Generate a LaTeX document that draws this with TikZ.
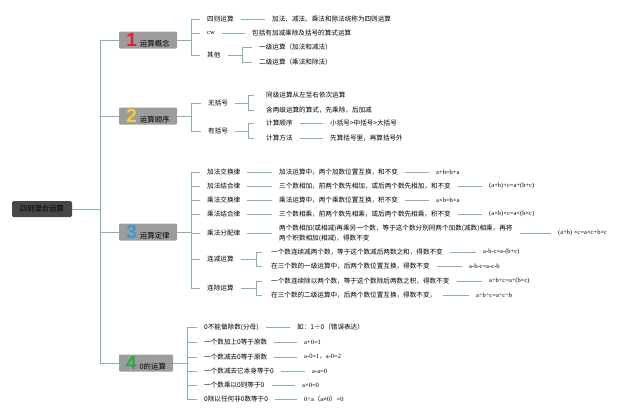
\documentclass[tikz,border=0pt]{standalone}
\usepackage{fontspec}
\setmainfont{Liberation Serif}
\newfontfamily\cjk{Noto Sans CJK SC}
\newfontfamily\numfont{Liberation Sans}
\definecolor{linkc}{HTML}{86B3A6}
\definecolor{boxgray}{HTML}{9C9C9C}
\definecolor{rootgray}{HTML}{474747}
\definecolor{numred}{HTML}{E2202E}
\definecolor{numyellow}{HTML}{F2D22E}
\definecolor{numblue}{HTML}{2F9BE0}
\definecolor{numgreen}{HTML}{2EAA3A}
\newcommand{\bignum}[2]{{\numfont\bfseries\fontsize{19}{19}\selectfont\color{#1}#2}\hspace{3pt}}
\tikzset{
  link/.style={draw=linkc, line width=0.8pt},
  tie/.style={link, shorten <=7pt, shorten >=7pt},
  tick/.style={link, shorten <=7pt},
  rootbox/.style={fill=rootgray, rounded corners=1.5pt, minimum width=60pt,
    minimum height=16pt, inner sep=1pt, font=\cjk\fontsize{7.3}{8}\selectfont},
  branch/.style={fill=boxgray, rounded corners=1pt, minimum width=58pt,
    minimum height=17pt, inner sep=1pt, font=\cjk\fontsize{7.4}{8}\selectfont},
  leaf/.style={anchor=west, inner xsep=0pt, inner ysep=1pt,
    font=\cjk\fontsize{6.6}{8}\selectfont},
  formula/.style={leaf, font=\fontsize{6.5}{8}\selectfont}
}
\begin{document}
\begin{tikzpicture}[x=1pt,y=-1pt]
    \fill[white] (0,0) rectangle (640,418);
    \useasboundingbox (0,0) rectangle (640,418);
    \node[rootbox] (root) at (42,209) {四则混合运算};
    \coordinate (trunk) at (100,209);
    \node[branch] (b1) at (148,40) {\bignum{numred}{1}运算概念};
    \node[branch] (b2) at (148,116) {\bignum{numyellow}{2}运算顺序};
    \node[branch] (b3) at (148,232) {\bignum{numblue}{3}运算定律};
    \node[branch, minimum width=54pt] (b4) at (146,363) {\bignum{numgreen}{4}0的运算};
    \draw[link] (root.east) -- (trunk);
    \foreach \b in {b1,b2,b3,b4}
      \draw[link] (\b.west) -| (trunk);

    % 运算概念
    \coordinate (j1) at (191,40);
    \node[leaf] (c11) at (207,19) {四则运算};
    \node[leaf] (c12) at (207,33) {\fontsize{6.5}{8}\rmfamily cw};
    \node[leaf] (c13) at (207,55) {其他};
    \node[leaf] (d11) at (272,19) {加法、减法、乘法和除法统称为四则运算};
    \node[leaf] (d12) at (252,33) {包括有加减乘除及括号的算式运算};
    \coordinate (j13) at (242,55);
    \node[leaf] (e131) at (259,47) {一级运算（加法和减法）};
    \node[leaf] (e132) at (259,62) {二级运算（乘法和除法）};
    \draw[link] (b1.east) -- (j1);
    \foreach \c in {c11,c12,c13}
      \draw[tick] (\c.west) -| (j1);
    \draw[tie] (c11.east) -- (d11.west);
    \draw[tie] (c12.east) -- (d12.west);
    \draw[tick] (c13.east) -- (j13);
    \foreach \e in {e131,e132}
      \draw[tick] (\e.west) -| (j13);

    % 运算顺序
    \coordinate (j2) at (191,116);
    \node[leaf] (c21) at (208,103) {无括号};
    \node[leaf] (c22) at (208,131) {有括号};
    \coordinate (j21) at (248,103);
    \coordinate (j22) at (248,131);
    \node[leaf] (e211) at (266,95) {同级运算从左至右依次运算};
    \node[leaf] (e212) at (266,110) {含两级运算的算式，先乘除，后加减};
    \node[leaf] (e221) at (266,123) {计算顺序};
    \node[leaf] (e222) at (266,138) {计算方法};
    \node[leaf] (f221) at (330,123) {小括号>中括号>大括号};
    \node[leaf] (f222) at (330,138) {先算括号里，再算括号外};
    \draw[link] (b2.east) -- (j2);
    \foreach \c in {c21,c22}
      \draw[tick] (\c.west) -| (j2);
    \draw[tick] (c21.east) -- (j21);
    \draw[tick] (c22.east) -- (j22);
    \foreach \e in {e211,e212}
      \draw[link, shorten <=12pt] (\e.west) -| (j21);
    \foreach \e in {e221,e222}
      \draw[link, shorten <=12pt] (\e.west) -| (j22);
    \draw[tie] (e221.east) -- (f221.west);
    \draw[tie] (e222.east) -- (f222.west);

    % 运算定律
    \coordinate (j3) at (191,232);
    \node[leaf] (c31) at (207,172) {加法交换律};
    \node[leaf] (c32) at (207,186) {加法结合律};
    \node[leaf] (c33) at (207,200) {乘法交换律};
    \node[leaf] (c34) at (207,214) {乘法结合律};
    \node[leaf] (c35) at (207,233) {乘法分配律};
    \node[leaf] (c36) at (207,259) {连减运算};
    \node[leaf] (c37) at (207,288) {连除运算};
    \node[leaf] (d31) at (279,172) {加法运算中，两个加数位置互换，和不变};
    \node[leaf] (d32) at (279,186) {三个数相加，前两个数先相加，或后两个数先相加，和不变};
    \node[leaf] (d33) at (279,200) {乘法运算中，两个乘数位置互换，积不变};
    \node[leaf] (d34) at (279,214) {三个数相乘，前两个数先相乘，或后两个数先相乘，积不变};
    \node[leaf, align=left, font=\cjk\fontsize{6.6}{10}\selectfont] (d35) at (279,233)
      {两个数相加(或相减)再乘另一个数，等于这个数分别同两个加数(减数)相乘，再将\\两个积数相加(相减)，得数不变};
    \node[formula] (f31) at (436,172) {a+b=b+a};
    \node[formula] (f32) at (489,186) {(a+b)+c=a+(b+c)};
    \node[formula] (f33) at (436,200) {a×b=b×a};
    \node[formula] (f34) at (489,214) {(a×b)×c=a×(b×c)};
    \node[formula] (f35) at (558,233) {(a+b) ×c=a×c+b×c};
    \coordinate (j36) at (256,259);
    \coordinate (j37) at (256,288);
    \node[leaf] (e361) at (271,252) {一个数连续减两个数，等于这个数减后两数之和，得数不变};
    \node[leaf] (e362) at (271,266) {在三个数的一级运算中，后两个数位置互换，得数不变};
    \node[leaf] (e371) at (271,281) {一个数连续除以两个数，等于这个数除后两数之积，得数不变};
    \node[leaf] (e372) at (271,295) {在三个数的二级运算中，后两个数位置互换，得数不变，};
    \node[formula] (f361) at (483,252) {a-b-c=a-(b+c)};
    \node[formula] (f362) at (469,266) {a-b-c=a-c-b};
    \node[formula] (f371) at (489,281) {a÷b÷c=a÷(b×c)};
    \node[formula] (f372) at (476,295) {a÷b÷c=a÷c÷b};
    \draw[link] (b3.east) -- (j3);
    \foreach \c in {c31,c32,c33,c34,c35,c36,c37}
      \draw[tick] (\c.west) -| (j3);
    \foreach \i in {1,...,5}
      \draw[tie] (c3\i.east) -- (d3\i.west);
    \foreach \i in {1,...,5}
      \draw[tie] (d3\i.east) -- (f3\i.west);
    \draw[tick] (c36.east) -- (j36);
    \draw[tick] (c37.east) -- (j37);
    \foreach \e in {e361,e362}
      \draw[link, shorten <=9pt] (\e.west) -| (j36);
    \foreach \e in {e371,e372}
      \draw[link, shorten <=9pt] (\e.west) -| (j37);
    \foreach \e in {361,362,371,372}
      \draw[tie] (e\e.east) -- (f\e.west);

    % 0的运算
    \coordinate (j4) at (187,363);
    \node[leaf] (c41) at (204,327) {0不能做除数(分母)};
    \node[leaf] (c42) at (204,342) {一个数加上0等于原数};
    \node[leaf] (c43) at (204,357) {一个数减去0等于原数};
    \node[leaf] (c44) at (204,371) {一个数减去它本身等于0};
    \node[leaf] (c45) at (204,385) {一个数乘以0则等于0};
    \node[leaf] (c46) at (204,399) {0除以任何非0数等于0};
    \node[leaf] (f41) at (297,327) {如：1÷0（错误表达）};
    \node[formula] (f42) at (304,342) {a+0=1};
    \node[formula] (f43) at (304,357) {a-0=1{\cjk ，}a-0=2};
    \node[formula] (f44) at (312,371) {a-a=0};
    \node[formula] (f45) at (302,385) {a×0=0};
    \node[formula] (f46) at (304,399) {0÷a{\cjk （}a≠0{\cjk ）}=0};
    \draw[link] (b4.east) -- (j4);
    \foreach \i in {1,...,6} {
      \draw[tick] (c4\i.west) -| (j4);
      \draw[tie] (c4\i.east) -- (f4\i.west);
    }
\end{tikzpicture}
\end{document}
